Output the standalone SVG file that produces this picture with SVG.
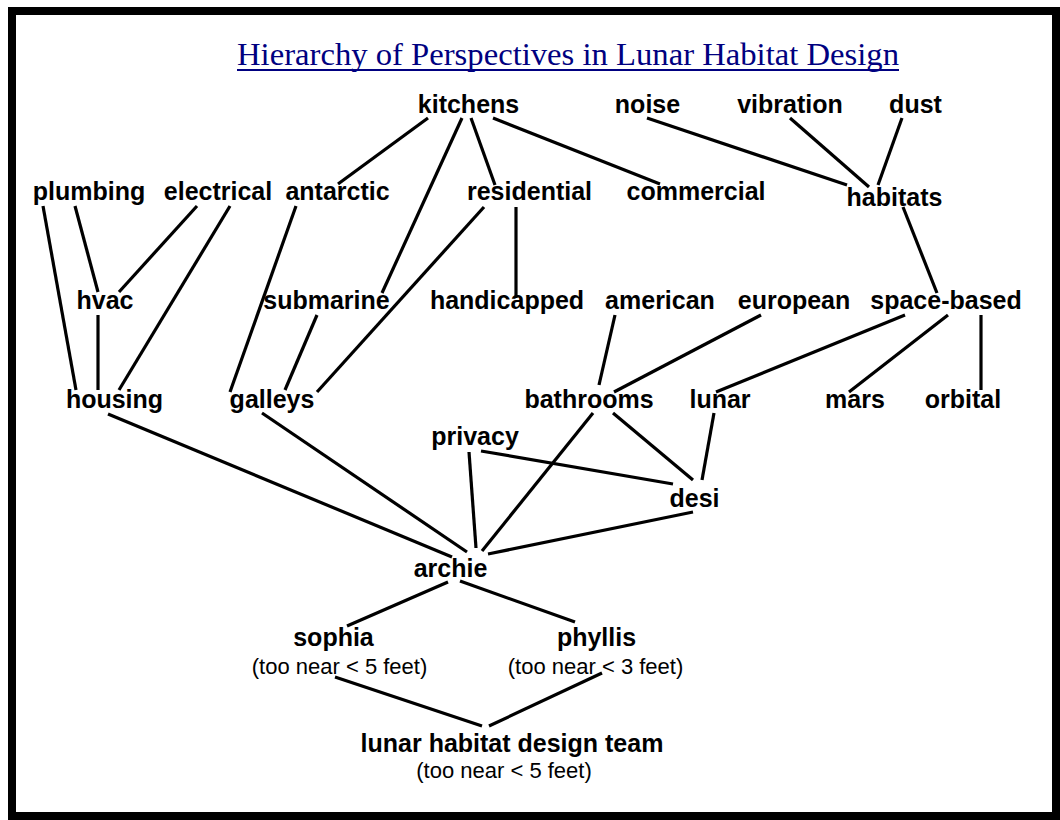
<svg xmlns="http://www.w3.org/2000/svg" width="1060" height="820" viewBox="0 0 1060 820">
<style>
.n{font-family:"Liberation Sans",Arial,sans-serif;font-weight:bold;font-size:25px;fill:#000;text-anchor:middle}
.s{font-family:"Liberation Sans",Arial,sans-serif;font-size:22px;fill:#000;text-anchor:middle}
.e line{stroke:#000;stroke-width:3.2;stroke-linecap:butt}
</style>
<rect x="0" y="0" width="1060" height="820" fill="#fff"/>
<rect x="12" y="11" width="1044" height="805" fill="none" stroke="#000" stroke-width="8"/>
<g id="title">
<text x="237" y="65" font-family="'Liberation Serif','Times New Roman',serif" font-size="32" fill="#000080" textLength="662" lengthAdjust="spacingAndGlyphs">Hierarchy of Perspectives in Lunar Habitat Design</text>
<rect x="237" y="69" width="662" height="2" fill="#000080"/>
</g>
<g id="connectors" class="e">
<line x1="428" y1="118" x2="338" y2="184"/>
<line x1="462" y1="118" x2="382" y2="293"/>
<line x1="471" y1="118" x2="495" y2="185"/>
<line x1="493" y1="118" x2="660" y2="184"/>
<line x1="647" y1="118" x2="847" y2="185"/>
<line x1="790" y1="118" x2="869" y2="187"/>
<line x1="902" y1="118" x2="878" y2="185"/>
<line x1="43" y1="206" x2="76" y2="390"/>
<line x1="75" y1="206" x2="98" y2="292"/>
<line x1="197" y1="206" x2="119" y2="292"/>
<line x1="230" y1="206" x2="119" y2="390"/>
<line x1="98" y1="315" x2="98" y2="390"/>
<line x1="296" y1="206" x2="230" y2="392"/>
<line x1="317" y1="315" x2="285" y2="390"/>
<line x1="484" y1="207" x2="317" y2="392"/>
<line x1="516" y1="207" x2="516" y2="298"/>
<line x1="903" y1="207" x2="937" y2="293"/>
<line x1="615" y1="315" x2="599" y2="385"/>
<line x1="761" y1="315" x2="614" y2="392"/>
<line x1="905" y1="315" x2="716" y2="392"/>
<line x1="948" y1="315" x2="849" y2="392"/>
<line x1="981" y1="315" x2="981" y2="390"/>
<line x1="108" y1="414" x2="452" y2="557"/>
<line x1="262" y1="413" x2="467" y2="552"/>
<line x1="469" y1="452" x2="476" y2="548"/>
<line x1="593" y1="413" x2="482" y2="551"/>
<line x1="613" y1="413" x2="693" y2="480"/>
<line x1="714" y1="413" x2="702" y2="480"/>
<line x1="481" y1="451" x2="673" y2="484"/>
<line x1="693" y1="512" x2="488" y2="554"/>
<line x1="448" y1="582" x2="347" y2="626"/>
<line x1="460" y1="581" x2="575" y2="622"/>
<line x1="335" y1="677" x2="482" y2="726"/>
<line x1="602" y1="673" x2="489" y2="726"/>
</g>
<g id="kitchens"><text class="n" x="468.5" y="113">kitchens</text></g>
<g id="noise"><text class="n" x="647.5" y="113">noise</text></g>
<g id="vibration"><text class="n" x="790" y="113">vibration</text></g>
<g id="dust"><text class="n" x="915.5" y="113">dust</text></g>
<g id="plumbing"><text class="n" x="89" y="200">plumbing</text></g>
<g id="electrical"><text class="n" x="218" y="200">electrical</text></g>
<g id="antarctic"><text class="n" x="337.5" y="200">antarctic</text></g>
<g id="residential"><text class="n" x="529.5" y="200">residential</text></g>
<g id="commercial"><text class="n" x="696" y="200">commercial</text></g>
<g id="habitats"><text class="n" x="894.5" y="206">habitats</text></g>
<g id="hvac"><text class="n" x="105" y="309">hvac</text></g>
<g id="submarine"><text class="n" x="326.5" y="309">submarine</text></g>
<g id="handicapped"><text class="n" x="507" y="309">handicapped</text></g>
<g id="american"><text class="n" x="660" y="309">american</text></g>
<g id="european"><text class="n" x="794" y="309">european</text></g>
<g id="space-based"><text class="n" x="946" y="309">space-based</text></g>
<g id="housing"><text class="n" x="114.5" y="408">housing</text></g>
<g id="galleys"><text class="n" x="272" y="408">galleys</text></g>
<g id="bathrooms"><text class="n" x="589" y="408">bathrooms</text></g>
<g id="lunar"><text class="n" x="720" y="408">lunar</text></g>
<g id="mars"><text class="n" x="855" y="408">mars</text></g>
<g id="orbital"><text class="n" x="963" y="408">orbital</text></g>
<g id="privacy"><text class="n" x="475" y="445">privacy</text></g>
<g id="desi"><text class="n" x="694.5" y="507">desi</text></g>
<g id="archie"><text class="n" x="450.5" y="577">archie</text></g>
<g id="sophia"><text class="n" x="333.5" y="646">sophia</text><text class="s" x="339.5" y="674">(too near &lt; 5 feet)</text></g>
<g id="phyllis"><text class="n" x="596.5" y="646">phyllis</text><text class="s" x="595.5" y="674">(too near &lt; 3 feet)</text></g>
<g id="team"><text class="n" x="512" y="752">lunar habitat design team</text><text class="s" x="504" y="778">(too near &lt; 5 feet)</text></g>
</svg>
